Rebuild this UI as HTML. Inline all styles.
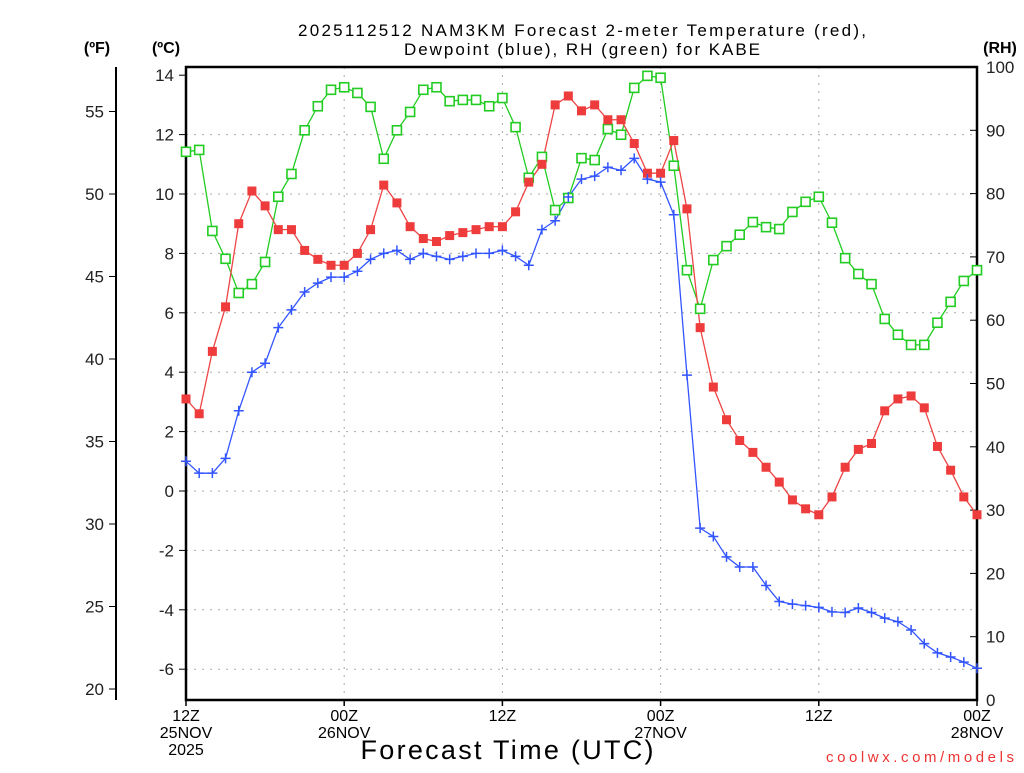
<!DOCTYPE html>
<html><head><meta charset="utf-8"><style>
body{margin:0;background:#fff}
svg text{font-family:"Liberation Sans",sans-serif}
</style></head><body>
<svg id="chart" width="1024" height="768" xmlns="http://www.w3.org/2000/svg">
<text x="582" y="36" font-size="17" text-anchor="middle" textLength="568" lengthAdjust="spacing">2025112512 NAM3KM Forecast 2-meter Temperature (red),</text>
<text x="582" y="55" font-size="17" text-anchor="middle" textLength="356" lengthAdjust="spacing">Dewpoint (blue), RH (green) for KABE</text>
<text x="97" y="53" font-size="16" font-weight="bold" text-anchor="middle">(ºF)</text>
<text x="166" y="53" font-size="16" font-weight="bold" text-anchor="middle">(ºC)</text>
<text x="1000" y="53" font-size="16" font-weight="bold" text-anchor="middle">(RH)</text>
<text x="507" y="759" font-size="27" text-anchor="middle" textLength="293" lengthAdjust="spacing">Forecast Time (UTC)</text>
<text x="1014" y="762" font-size="15" fill="#e33" text-anchor="end" textLength="188" lengthAdjust="spacing">coolwx.com/models</text>
<g id="grid"></g><g id="axes"></g><g id="series"></g>
</svg>
<script>
const xLabels=[["12Z","25NOV","2025"],["00Z","26NOV"],["12Z"],["00Z","27NOV"],["12Z"],["00Z","28NOV"]];
const cTicks=[-6,-4,-2,0,2,4,6,8,10,12,14];
const fTicks=[20,25,30,35,40,45,50,55];
const rhTicks=[0,10,20,30,40,50,60,70,80,90,100];
const tempC=[3.1,2.6,4.7,6.2,9.0,10.1,9.6,8.8,8.8,8.1,7.8,7.6,7.6,8.0,8.8,10.3,9.7,8.9,8.5,8.4,8.6,8.7,8.8,8.9,8.9,9.4,10.4,11.0,13.0,13.3,12.8,13.0,12.5,12.5,11.7,10.7,10.7,11.8,9.5,5.5,3.5,2.4,1.7,1.3,0.8,0.3,-0.3,-0.6,-0.8,-0.2,0.8,1.4,1.6,2.7,3.1,3.2,2.8,1.5,0.7,-0.2,-0.8];
const dewC=[1.0,0.6,0.6,1.1,2.7,4.0,4.3,5.5,6.1,6.7,7.0,7.2,7.2,7.4,7.8,8.0,8.1,7.8,8.0,7.9,7.8,7.9,8.0,8.0,8.1,7.9,7.6,8.8,9.1,9.9,10.5,10.6,10.9,10.8,11.2,10.5,10.4,9.3,3.9,-1.25,-1.53,-2.22,-2.56,-2.56,-3.18,-3.72,-3.81,-3.86,-3.92,-4.07,-4.09,-3.94,-4.09,-4.28,-4.40,-4.68,-5.14,-5.45,-5.59,-5.76,-5.97];
const rh=[86.6,86.9,74.1,69.7,64.3,65.7,69.2,79.5,83.1,90.0,93.8,96.4,96.8,95.9,93.7,85.5,90.0,92.9,96.4,96.8,94.6,94.8,94.8,93.8,95.1,90.5,82.5,85.8,77.4,79.3,85.6,85.3,90.2,89.3,96.7,98.6,98.3,84.4,67.9,61.8,69.5,71.7,73.5,75.5,74.7,74.4,77.1,78.7,79.5,75.4,69.8,67.3,65.7,60.2,57.7,56.1,56.1,59.6,62.9,66.2,67.9];
const X0=186,X1=977,Y0=67,Y1=700,NH=60;
const xS=h=>X0+h*(X1-X0)/NH;
const yC=c=>491-c*29.7;
const yF=f=>yC((f-32)*5/9);
const yR=r=>Y1-r*(Y1-Y0)/100;
const NS="http://www.w3.org/2000/svg";
function mk(tag,parent,attrs){const e=document.createElementNS(NS,tag);for(const k in attrs)e.setAttribute(k,attrs[k]);parent.appendChild(e);return e;}
const grid=document.getElementById('grid'),axes=document.getElementById('axes'),ser=document.getElementById('series');
cTicks.forEach(c=>{if(c===14)return;
 const l=mk('line',grid,{x1:X0,x2:X1,y1:yC(c),y2:yC(c),stroke:'#aaa','stroke-dasharray':'2,6'});
 
 });
xLabels.forEach((lab,i)=>{const x=xS(i*12);
 if(i>0&&i<5){const l=mk('line',grid,{x1:x,x2:x,y1:Y0,y2:Y1,stroke:'#aaa','stroke-dasharray':'2,6'});
 
 }
 lab.forEach((s,j)=>{const t=mk('text',axes,{x:x,y:721+j*17,'font-size':16,'text-anchor':'middle'});t.textContent=s;
 
 });
 mk('line',axes,{x1:x,x2:x,y1:Y1,y2:Y1+6,stroke:'#000','stroke-width':1.5});
});
const frame=mk('rect',axes,{x:X0,y:Y0,width:X1-X0,height:Y1-Y0,fill:'none',stroke:'#000','stroke-width':2.5});


cTicks.forEach(c=>{mk('line',axes,{x1:X0-7,x2:X0,y1:yC(c),y2:yC(c),stroke:'#000'});
 const t=mk('text',axes,{x:X0-12,y:yC(c)+6,'font-size':17,'text-anchor':'end',fill:'#222'});t.textContent=c;
 
 });
mk('line',axes,{x1:116,x2:116,y1:Y0,y2:Y1,stroke:'#000','stroke-width':2});
fTicks.forEach(f=>{mk('line',axes,{x1:109,x2:116,y1:yF(f),y2:yF(f),stroke:'#000'});
 const t=mk('text',axes,{x:104,y:yF(f)+6,'font-size':17,'text-anchor':'end',fill:'#222'});t.textContent=f;
 
 });
rhTicks.forEach(r=>{mk('line',axes,{x1:X1-7,x2:X1,y1:yR(r),y2:yR(r),stroke:'#000'});
 const t=mk('text',axes,{x:986,y:yR(r)+6,'font-size':17,'text-anchor':'start',fill:'#222'});t.textContent=r;
 
 });
function line(vals,yf,col,name){
 const p=mk('polyline',ser,{points:vals.map((v,i)=>xS(i)+','+yf(v)).join(' '),fill:'none',stroke:col,'stroke-width':1.3});
 
 
 return p;}
line(rh,yR,'#22cc22','rh');
line(tempC,yC,'#ee4444','temperature');
line(dewC,yC,'#3355ff','dewpoint');
rh.forEach((v,i)=>{const r=mk('rect',ser,{x:xS(i)-4.5,y:yR(v)-4.5,width:9,height:9,fill:'#fff',stroke:'#22cc22','stroke-width':1.6});
 
 });
tempC.forEach((v,i)=>{const r=mk('rect',ser,{x:xS(i)-4.5,y:yC(v)-4.5,width:9,height:9,fill:'#ee3b3b'});
 
 });
dewC.forEach((v,i)=>{const x=xS(i),y=yC(v);
 const g=mk('path',ser,{d:`M${x-5},${y}H${x+5}M${x},${y-5}V${y+5}`,stroke:'#3355ff','stroke-width':1.5});
 
 });
</script>
</body></html>
